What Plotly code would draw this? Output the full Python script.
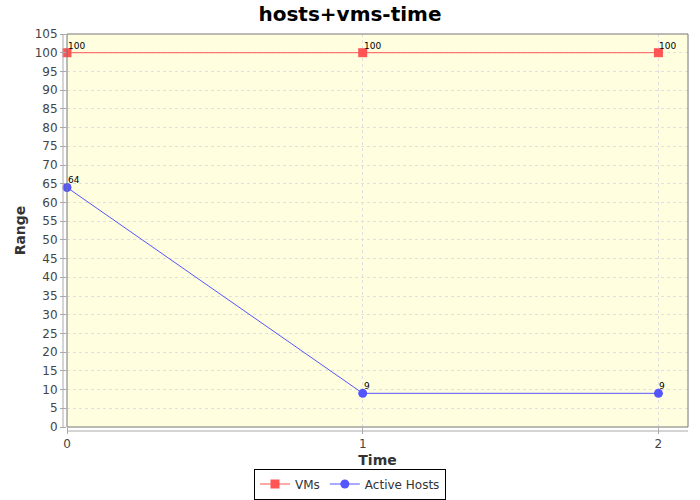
import plotly.graph_objects as go

times = [0, 1, 2]
vms = [100, 100, 100]
active_hosts = [64, 9, 9]
y_ticks = list(range(0, 106, 5))

fig = go.Figure()
fig.add_trace(go.Scatter(
    x=times, y=vms, name="VMs", mode="lines+markers",
    line=dict(color="#FF5555", width=1),
    marker=dict(symbol="square", size=9, color="#FF5555"),
    cliponaxis=False,
))
fig.add_trace(go.Scatter(
    x=times, y=active_hosts, name="Active Hosts", mode="lines+markers",
    line=dict(color="#5555FF", width=1),
    marker=dict(symbol="circle", size=9, color="#5555FF"),
    cliponaxis=False,
))

for series in (vms, active_hosts):
    for t, v in zip(times, series):
        fig.add_annotation(x=t, y=v, text=str(v), showarrow=False,
                           xanchor="left", yanchor="bottom", xshift=-1, yshift=0,
                           font=dict(family="DejaVu Sans", size=9, color="#000000"))

L, R, T, B = 67, 12, 34, 73
pw = 700 - L - R
ph = 500 - T - B

fig.update_layout(
    width=700, height=500,
    margin=dict(l=L, r=R, t=T, b=B, autoexpand=False),
    paper_bgcolor="white",
    plot_bgcolor="#FFFFE0",
    font=dict(family="DejaVu Sans", color="#444444"),
    title=dict(text="<b>hosts+vms-time</b>", x=0.5, xref="container", xanchor="center",
               y=1 - 14 / 500, yanchor="middle", yref="container",
               font=dict(family="DejaVu Sans", size=20, color="#000000")),
    showlegend=True,
    legend=dict(orientation="h", xref="container", yref="container",
                x=0.5, xanchor="center", y=16 / 500, yanchor="middle",
                bordercolor="#000000", borderwidth=1, bgcolor="white",
                font=dict(family="DejaVu Sans", size=12, color="#333333"),
                itemwidth=30, tracegroupgap=0),
    xaxis=dict(range=[0, 2.1], tickvals=times, ticktext=[str(t) for t in times],
               showgrid=True, gridcolor="#E0E0E0", griddash="3px,3px", gridwidth=1,
               zeroline=False, showline=False, ticks="outside", ticklen=6,
               tickcolor="#AAAAAA", tickfont=dict(size=12, color="#444444"),
               title=dict(text="<b>Time</b>", font=dict(size=14, color="#333333"), standoff=5)),
    yaxis=dict(range=[0, 105], tickvals=y_ticks,
               showgrid=True, gridcolor="#E0E0E0", griddash="3px,3px", gridwidth=1,
               zeroline=False, showline=False, ticks="outside", ticklen=6,
               tickcolor="#AAAAAA", tickfont=dict(size=12, color="#444444"),
               title=dict(text="<b>Range</b>", font=dict(size=14, color="#333333"), standoff=5)),
)

# plot frame
fig.add_shape(type="rect", xref="paper", yref="paper", x0=0, x1=1, y0=0, y1=1,
              line=dict(color="#777777", width=1), layer="above")
# offset axis lines
fig.add_shape(type="line", xref="paper", yref="paper", x0=-4 / pw, x1=-4 / pw, y0=0, y1=1,
              line=dict(color="#AAAAAA", width=1))
fig.add_shape(type="line", xref="paper", yref="paper", x0=0, x1=1, y0=-4 / ph, y1=-4 / ph,
              line=dict(color="#AAAAAA", width=1))

fig.write_html("out.html")
